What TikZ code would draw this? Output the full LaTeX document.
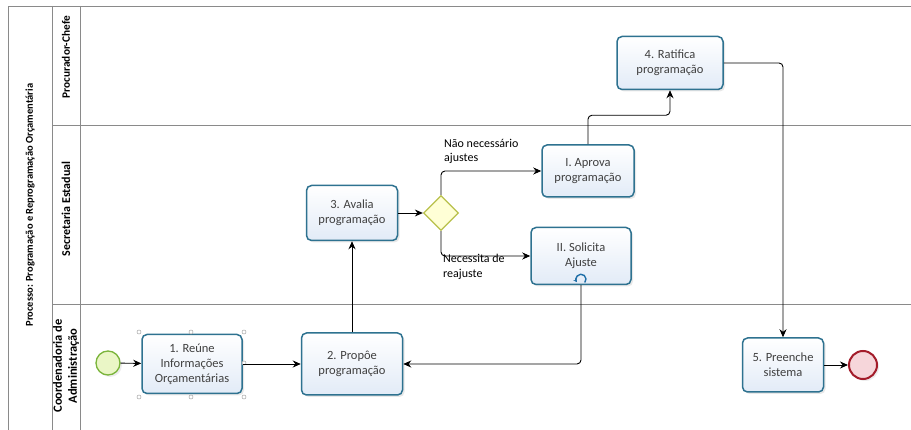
\documentclass[tikz,border=0pt]{standalone}
\usepackage{fontspec}
\setmainfont{Carlito}
\usetikzlibrary{arrows.meta,shapes.geometric,shadows,calc}
\definecolor{taskline}{HTML}{2E7290}
\definecolor{tasktop}{HTML}{FFFFFF}
\definecolor{taskbot}{HTML}{E2EBF7}
\definecolor{poolline}{HTML}{8A8A8A}
\definecolor{startfill}{HTML}{EAF6C6}
\definecolor{startline}{HTML}{7AB43A}
\definecolor{endfill}{HTML}{F6D6DA}
\definecolor{endline}{HTML}{A31C2A}
\definecolor{gwfill}{HTML}{FFFFD6}
\definecolor{gwline}{HTML}{B8C04A}
\definecolor{loopblue}{HTML}{1F6FA8}
\begin{document}
\begin{tikzpicture}[x=1pt,y=-1pt,
  task/.style={draw=taskline, line width=1.5pt, rounded corners=5pt,
    top color=tasktop, bottom color=taskbot, align=center,
    font=\fontsize{12.5}{15}\selectfont, text=black!75,
    drop shadow={opacity=0.18, shadow xshift=2pt, shadow yshift=-2pt}},
  flow/.style={line width=0.9pt, black, rounded corners=4pt, -{Stealth[length=8pt,width=7pt]}},
  pool/.style={draw=poolline, line width=0.9pt},
  lanelabel/.style={rotate=90, font=\fontsize{11.3}{13}\selectfont\bfseries, align=center},
  flowlabel/.style={font=\fontsize{12}{14.5}\selectfont, align=left, anchor=north west, inner sep=0pt},
  handle/.style={circle, draw=black!35, fill=white, line width=0.5pt, minimum size=4pt, inner sep=0pt}
]
\useasboundingbox (0,0) rectangle (911,430);

% pool and lanes
\draw[pool] (911,6) -- (8,6) -- (8,430);
\draw[pool] (52,6) -- (52,430);
\draw[pool] (80,6) -- (80,430);
\draw[pool] (52,125) -- (911,125);
\draw[pool] (52,304) -- (911,304);

\node[lanelabel, font=\fontsize{10.5}{13}\selectfont\bfseries] (poolname) at (30,205) {Processo: Programação e Reprogramação Orçamentária};
\node[lanelabel] (lane1) at (66,57) {Procurador-Chefe};
\node[lanelabel, font=\fontsize{12}{14}\selectfont\bfseries] (lane2) at (66,209) {Secretaria Estadual};
\node[lanelabel, font=\fontsize{12.5}{15}\selectfont\bfseries] (lane3) at (66,366) {Coordenadoria de\\Administração};

% events and gateway
\node[circle, draw=startline, fill=startfill, line width=1.3pt, minimum size=24pt, inner sep=0pt,
  drop shadow={opacity=0.15, shadow xshift=2pt, shadow yshift=-2pt}] (start) at (108,363) {};
\node[circle, draw=endline, fill=endfill, line width=2pt, minimum size=28pt, inner sep=0pt,
  drop shadow={opacity=0.15, shadow xshift=2pt, shadow yshift=-2pt}] (end) at (863,365) {};
\node[diamond, draw=gwline, fill=gwfill, line width=1.3pt, minimum size=35pt, inner sep=0pt] (gw) at (441,213) {};

% tasks
\node[task, minimum width=100pt, minimum height=59pt] (t1) at (192,364) {1. Reúne\\Informações\\Orçamentárias};
\node[task, minimum width=101pt, minimum height=62pt] (t2) at (352,364) {2. Propôe\\programação};
\node[task, minimum width=91pt, minimum height=55pt] (t3) at (352,213) {3. Avalia\\programação};
\node[task, minimum width=92pt, minimum height=52pt] (ta) at (588,171) {I. Aprova\\programação};
\node[task, minimum width=100pt, minimum height=57pt] (tb) at (581,256) {II. Solicita\\Ajuste};
\node[task, minimum width=106pt, minimum height=53pt] (t4) at (670,63) {4. Ratifica\\programação};
\node[task, minimum width=81pt, minimum height=54pt] (t5) at (783,365) {5. Preenche\\sistema};

% selection handles around task 1
\foreach \hx/\hy [count=\i] in {139/332,191/332,244/332,244/363,244/397,191/397,139/397}
  \node[handle] (h\i) at (\hx,\hy) {};

% flows
\draw[flow] (start) -- (t1);
\draw[flow] (t1) -- (t2);
\draw[flow] (t2.north) -- (t3.south);
\draw[flow] (t3) -- (gw.west);
\draw[flow] (gw.north) |- (ta.west);
\draw[flow] (gw.south) |- (tb.west);
\draw[flow] (ta.north) -- ++(0,-29) -| (t4.south);
\draw[flow] (t4.east) -| (t5.north);
\draw[flow] (tb.south) |- (t2.east);
\draw[flow] (t5) -- (end);

% loop marker on task II
\coordinate (loopc) at ($(tb.south)+(0pt,6pt)$);
\draw[loopblue, line width=1.4pt, -{Stealth[length=3.5pt,width=4pt]}]
  ($(loopc)+({5pt*cos(-40)},{5pt*sin(-40)})$) arc[start angle=-40, end angle=215, radius=5pt];

% flow labels
\node[flowlabel] (lab1) at (444,139) {Não necessário\\ajustes};
\node[flowlabel] (lab2) at (443,254) {Necessita de\\reajuste};
\end{tikzpicture}
\end{document}
